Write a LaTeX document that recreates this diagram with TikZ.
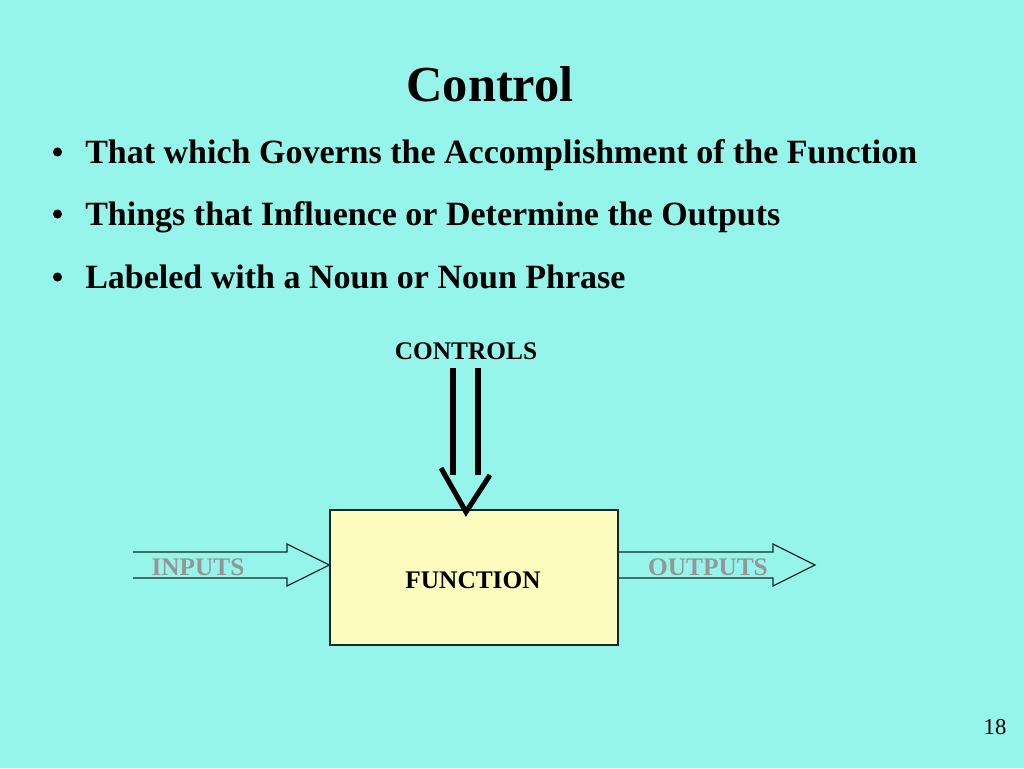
\documentclass[tikz,border=0pt]{standalone}
\usepackage{fontspec}
\setmainfont{Liberation Serif}
\definecolor{bgc}{RGB}{150,245,235}
\definecolor{boxc}{RGB}{252,252,190}
\definecolor{lblgray}{RGB}{150,150,150}
\definecolor{edgec}{RGB}{20,40,40}
\begin{document}
\begin{tikzpicture}[x=0.75pt,y=-0.75pt,
  title/.style={font=\fontsize{37.8}{40}\selectfont\bfseries, inner sep=0pt, anchor=base},
  bullet/.style={font=\fontsize{25.5}{30}\selectfont\bfseries, inner sep=0pt, anchor=base west},
  dot/.style={circle, fill=black, inner sep=0pt, minimum size=6.8pt},
  small/.style={font=\fontsize{19}{22}\selectfont\bfseries, inner sep=0pt, anchor=base},
  flowlbl/.style={small, text=lblgray},
  funcbox/.style={draw=edgec, line width=0.9pt, fill=boxc, minimum width=216pt, minimum height=101.25pt, inner sep=0pt},
  blockarrow/.style={draw=edgec, line width=0.9pt, line join=miter},
  ctrlline/.style={draw=black, line width=3.8pt}
]
\fill[bgc] (0,0) rectangle (1024,768);
\useasboundingbox (0,0) rectangle (1024,768);

\node[title] (ttl) at (490,101) {Control};
\node[bullet] (b1) at (85,163) {That which Governs the Accomplishment of the Function};
\node[bullet] (b2) at (85,225) {Things that Influence or Determine the Outputs};
\node[bullet] (b3) at (85,288) {Labeled with a Noun or Noun Phrase};
\foreach \y/\n in {152/d1,214/d2,277/d3}
  \node[dot] (\n) at (57.5,\y) {};

\node[funcbox] (func) at (474,577.5) {};
\node[small] (funclbl) at (473,588) {FUNCTION};

% input arrow
\coordinate (inL1) at (133,552);
\coordinate (inL2) at (133,578);
\draw[blockarrow] (inL1) -- (287,552) -- (287,544) -- (func.west |- 0,565) -- (287,586) -- (287,578) -- (inL2);
\node[flowlbl] (inlbl) at (198,575) {INPUTS};

% output arrow
\coordinate (outT) at (815,565);
\draw[blockarrow] (func.east |- 0,552) -- (773,552) -- (773,544) -- (outT) -- (773,586) -- (773,578) -- (func.east |- 0,578);
\node[flowlbl] (outlbl) at (708,575) {OUTPUTS};

% control arrow
\node[small] (ctrl) at (466,359) {CONTROLS};
\coordinate (cA) at (453,368);
\coordinate (cB) at (478,368);
\coordinate (cTip) at (466,512);
\draw[ctrlline] (cA) -- (453,475);
\draw[ctrlline] (cB) -- (478,475);
\draw[ctrlline] (441,468) -- (cTip) -- (490,475);

\node[font=\fontsize{17}{20}\selectfont, inner sep=0pt, anchor=base] (pg) at (995,734) {18};
\end{tikzpicture}
\end{document}
